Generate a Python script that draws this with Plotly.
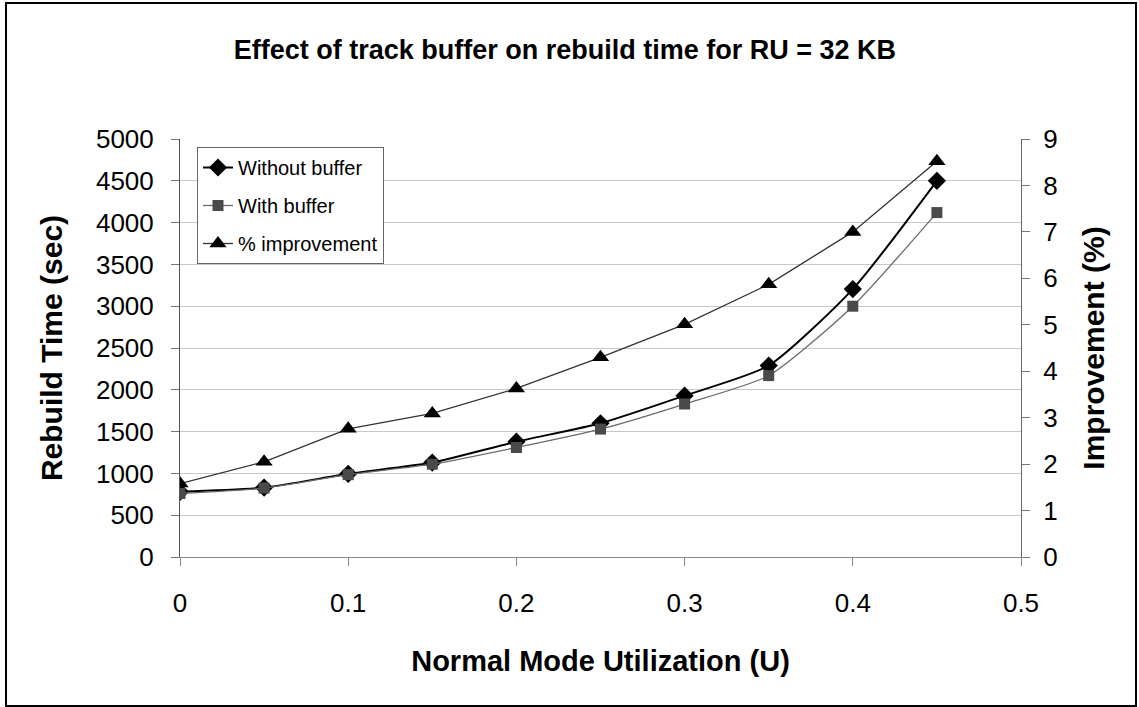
import plotly.graph_objects as go

utilization = [0, 0.05, 0.1, 0.15, 0.2, 0.25, 0.3, 0.35, 0.4, 0.45]
without_buffer = [780, 830, 995, 1130, 1380, 1600, 1930, 2290, 3205, 4500]
with_buffer = [760, 825, 985, 1110, 1310, 1530, 1830, 2170, 3000, 4120]
improvement = [1.58, 2.05, 2.76, 3.09, 3.63, 4.30, 5.01, 5.87, 7.00, 8.52]

x_ticks = [0, 0.1, 0.2, 0.3, 0.4, 0.5]
x_tick_labels = ["0", "0.1", "0.2", "0.3", "0.4", "0.5"]

FONT = "Liberation Sans, Arial, sans-serif"

fig = go.Figure()
fig.add_trace(go.Scatter(
    x=utilization, y=without_buffer, name="Without buffer",
    mode="lines+markers", line=dict(color="black", width=2, shape="spline", smoothing=0.6),
    marker=dict(symbol="diamond", size=14, color="black"),
    legendgroup="a"))
fig.add_trace(go.Scatter(
    x=utilization, y=with_buffer, name="With buffer",
    mode="lines+markers", line=dict(color="#6a6a6a", width=1.3, shape="spline", smoothing=0.6),
    marker=dict(symbol="square", size=11, color="#4a4a4a"),
    legendgroup="b"))
fig.add_trace(go.Scatter(
    x=utilization, y=improvement, name="% improvement", yaxis="y2",
    mode="lines+markers", line=dict(color="#333333", width=1.3),
    marker=dict(symbol="triangle-up", size=15, color="black"),
    legendgroup="c"))

fig.update_layout(
    width=1139, height=707,
    margin=dict(l=180, r=118, t=139, b=150),
    paper_bgcolor="white", plot_bgcolor="white",
    font=dict(family=FONT, color="black"),
    title=dict(text="<b>Effect of track buffer on rebuild time for RU = 32 KB</b>",
               x=0.496, xanchor="center", y=1 - 50 / 707, yanchor="middle",
               font=dict(size=27, family=FONT, color="black")),
    xaxis=dict(
        range=[0, 0.5], tickvals=x_ticks, ticktext=x_tick_labels,
        showgrid=False, zeroline=False,
        showline=True, linecolor="#888888", linewidth=1,
        ticks="outside", ticklen=8, tickcolor="#888888",
        tickfont=dict(size=26, family=FONT), ticklabelstandoff=15,
        title=dict(text="<b>Normal Mode Utilization (U)</b>", font=dict(size=29, family=FONT),
                   standoff=33),
    ),
    yaxis=dict(
        range=[0, 5000], dtick=500, tick0=0,
        showgrid=True, gridcolor="#c8c8c8", gridwidth=1, zeroline=False,
        showline=True, linecolor="#555555", linewidth=1,
        ticks="outside", ticklen=8, tickcolor="#777777",
        tickfont=dict(size=26, family=FONT), ticklabelstandoff=12,
        title=dict(text="<b>Rebuild Time (sec)</b>", font=dict(size=30, family=FONT), standoff=24),
    ),
    yaxis2=dict(
        range=[0, 9], dtick=1, tick0=0, overlaying="y", side="right",
        showgrid=False, zeroline=False,
        showline=True, linecolor="#666666", linewidth=1,
        ticks="outside", ticklen=8, tickcolor="#777777",
        tickfont=dict(size=26, family=FONT), ticklabelstandoff=8,
        title=dict(text="<b>Improvement (%)</b>", font=dict(size=30, family=FONT), standoff=26),
    ),
    legend=dict(
        x=(197 - 180) / 841, y=(557 - 147) / 418, xanchor="left", yanchor="top",
        bgcolor="white", bordercolor="#666666", borderwidth=1,
        font=dict(size=20, family=FONT), tracegroupgap=9,
    ),
    shapes=[dict(type="rect", xref="paper", yref="paper",
                 x0=(6 - 180) / 841, x1=(1136 - 180) / 841,
                 y0=(557 - 706) / 418, y1=(557 - 3) / 418,
                 line=dict(color="black", width=2), fillcolor="rgba(0,0,0,0)", layer="below")],
)

fig.write_html("out.html", config={"displayModeBar": False},
               post_script="document.body.style.margin='0';")
